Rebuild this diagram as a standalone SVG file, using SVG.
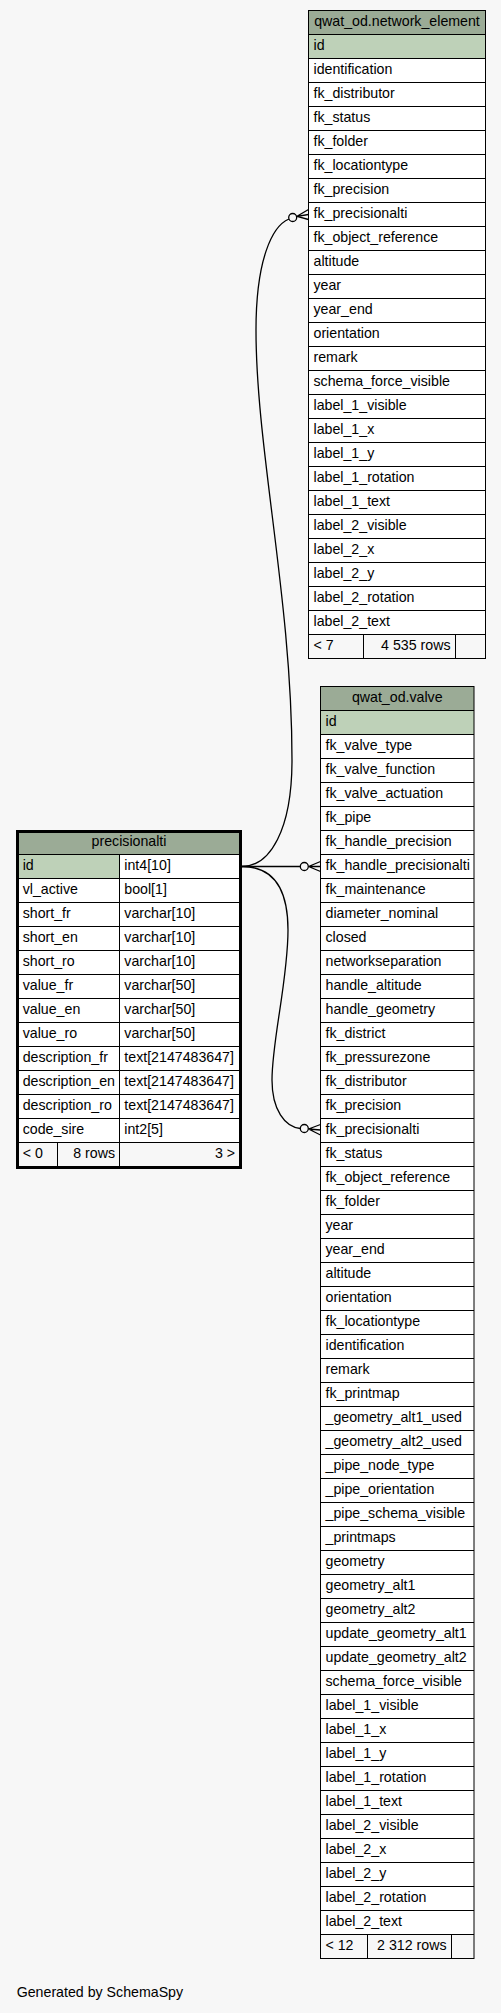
<svg xmlns="http://www.w3.org/2000/svg" width="501" height="2013" viewBox="0 0 501 2013">
<style>
text{font-family:"Liberation Sans",Arial,sans-serif;font-size:14.2px;fill:#000}
.c{text-anchor:middle}
.r{text-anchor:end}
.hd{fill:#9bab96}
.pk{fill:#bed1b8}
.ft{fill:#f7f7f7}
.cell{fill:#fff}
.ln{stroke:#000;stroke-width:1;fill:none}
.ob{fill:none;stroke:#000;stroke-width:1}
.edge{fill:none;stroke:#000;stroke-width:1.3}
.dot{fill:#f7f7f7;stroke:#000;stroke-width:1.3}
</style>
<rect x="0" y="0" width="501" height="2013" fill="#f7f7f7"/>

<g id="connectors">
<path class="edge" d="M242,866.5 C270,866.5 292,830 292,760 C292,600 256,450 256,330 C256,260 272,226 289,219"/>
<circle class="dot" cx="292.7" cy="217.5" r="4"/>
<path class="edge" d="M297,216.3 L308.5,209.5 M297,216.3 L308.5,214.5 M297,216.3 L308.5,219.5"/>
<path class="edge" d="M242,866.5 L300.3,866.5"/>
<circle class="dot" cx="304.3" cy="866.5" r="4"/>
<path class="edge" d="M308.5,866.5 L320.5,861.5 M308.5,866.5 L320.5,866.5 M308.5,866.5 L320.5,871.5"/>
<path class="edge" d="M242,866.5 C270,866.5 288,885 288,930 C288,980 272,1040 272,1080 C272,1110 285,1127 300.3,1128.5"/>
<circle class="dot" cx="304.3" cy="1128.5" r="4"/>
<path class="edge" d="M308.5,1129 L320.5,1124.5 M308.5,1129 L320.5,1130 M308.5,1129 L320.5,1135"/>
</g>

<g id="network_element">
<rect class="cell" x="308.5" y="10.5" width="177" height="648"/>
<rect class="hd" x="308.5" y="10.5" width="177" height="24"/>
<rect class="pk" x="308.5" y="34.5" width="177" height="24"/>
<rect class="ft" x="308.5" y="634.5" width="177" height="24"/>
<path class="ln" d="M308.5,34.5h177M308.5,58.5h177M308.5,82.5h177M308.5,106.5h177M308.5,130.5h177M308.5,154.5h177M308.5,178.5h177M308.5,202.5h177M308.5,226.5h177M308.5,250.5h177M308.5,274.5h177M308.5,298.5h177M308.5,322.5h177M308.5,346.5h177M308.5,370.5h177M308.5,394.5h177M308.5,418.5h177M308.5,442.5h177M308.5,466.5h177M308.5,490.5h177M308.5,514.5h177M308.5,538.5h177M308.5,562.5h177M308.5,586.5h177M308.5,610.5h177M308.5,634.5h177M363.5,634.5v24M455.5,634.5v24"/>
<rect class="ob" x="308.5" y="10.5" width="177" height="648"/>
<text class="c" x="397" y="26">qwat_od.network_element</text>
<text x="313.5" y="50">id</text>
<text x="313.5" y="74">identification</text>
<text x="313.5" y="98">fk_distributor</text>
<text x="313.5" y="122">fk_status</text>
<text x="313.5" y="146">fk_folder</text>
<text x="313.5" y="170">fk_locationtype</text>
<text x="313.5" y="194">fk_precision</text>
<text x="313.5" y="218">fk_precisionalti</text>
<text x="313.5" y="242">fk_object_reference</text>
<text x="313.5" y="266">altitude</text>
<text x="313.5" y="290">year</text>
<text x="313.5" y="314">year_end</text>
<text x="313.5" y="338">orientation</text>
<text x="313.5" y="362">remark</text>
<text x="313.5" y="386">schema_force_visible</text>
<text x="313.5" y="410">label_1_visible</text>
<text x="313.5" y="434">label_1_x</text>
<text x="313.5" y="458">label_1_y</text>
<text x="313.5" y="482">label_1_rotation</text>
<text x="313.5" y="506">label_1_text</text>
<text x="313.5" y="530">label_2_visible</text>
<text x="313.5" y="554">label_2_x</text>
<text x="313.5" y="578">label_2_y</text>
<text x="313.5" y="602">label_2_rotation</text>
<text x="313.5" y="626">label_2_text</text>
<text x="313.5" y="650">&lt; 7</text>
<text class="r" x="450.5" y="650">4 535 rows</text>
</g>

<g id="valve">
<rect class="cell" x="320.5" y="686.5" width="153.5" height="1272"/>
<rect class="hd" x="320.5" y="686.5" width="153.5" height="24"/>
<rect class="pk" x="320.5" y="710.5" width="153.5" height="24"/>
<rect class="ft" x="320.5" y="1934.5" width="153.5" height="24"/>
<path class="ln" d="M320.5,710.5h153.5M320.5,734.5h153.5M320.5,758.5h153.5M320.5,782.5h153.5M320.5,806.5h153.5M320.5,830.5h153.5M320.5,854.5h153.5M320.5,878.5h153.5M320.5,902.5h153.5M320.5,926.5h153.5M320.5,950.5h153.5M320.5,974.5h153.5M320.5,998.5h153.5M320.5,1022.5h153.5M320.5,1046.5h153.5M320.5,1070.5h153.5M320.5,1094.5h153.5M320.5,1118.5h153.5M320.5,1142.5h153.5M320.5,1166.5h153.5M320.5,1190.5h153.5M320.5,1214.5h153.5M320.5,1238.5h153.5M320.5,1262.5h153.5M320.5,1286.5h153.5M320.5,1310.5h153.5M320.5,1334.5h153.5M320.5,1358.5h153.5M320.5,1382.5h153.5M320.5,1406.5h153.5M320.5,1430.5h153.5M320.5,1454.5h153.5M320.5,1478.5h153.5M320.5,1502.5h153.5M320.5,1526.5h153.5M320.5,1550.5h153.5M320.5,1574.5h153.5M320.5,1598.5h153.5M320.5,1622.5h153.5M320.5,1646.5h153.5M320.5,1670.5h153.5M320.5,1694.5h153.5M320.5,1718.5h153.5M320.5,1742.5h153.5M320.5,1766.5h153.5M320.5,1790.5h153.5M320.5,1814.5h153.5M320.5,1838.5h153.5M320.5,1862.5h153.5M320.5,1886.5h153.5M320.5,1910.5h153.5M320.5,1934.5h153.5M367.5,1934.5v24M451.5,1934.5v24"/>
<rect class="ob" x="320.5" y="686.5" width="153.5" height="1272"/>
<text class="c" x="397.25" y="702">qwat_od.valve</text>
<text x="325.5" y="726">id</text>
<text x="325.5" y="750">fk_valve_type</text>
<text x="325.5" y="774">fk_valve_function</text>
<text x="325.5" y="798">fk_valve_actuation</text>
<text x="325.5" y="822">fk_pipe</text>
<text x="325.5" y="846">fk_handle_precision</text>
<text x="325.5" y="870">fk_handle_precisionalti</text>
<text x="325.5" y="894">fk_maintenance</text>
<text x="325.5" y="918">diameter_nominal</text>
<text x="325.5" y="942">closed</text>
<text x="325.5" y="966">networkseparation</text>
<text x="325.5" y="990">handle_altitude</text>
<text x="325.5" y="1014">handle_geometry</text>
<text x="325.5" y="1038">fk_district</text>
<text x="325.5" y="1062">fk_pressurezone</text>
<text x="325.5" y="1086">fk_distributor</text>
<text x="325.5" y="1110">fk_precision</text>
<text x="325.5" y="1134">fk_precisionalti</text>
<text x="325.5" y="1158">fk_status</text>
<text x="325.5" y="1182">fk_object_reference</text>
<text x="325.5" y="1206">fk_folder</text>
<text x="325.5" y="1230">year</text>
<text x="325.5" y="1254">year_end</text>
<text x="325.5" y="1278">altitude</text>
<text x="325.5" y="1302">orientation</text>
<text x="325.5" y="1326">fk_locationtype</text>
<text x="325.5" y="1350">identification</text>
<text x="325.5" y="1374">remark</text>
<text x="325.5" y="1398">fk_printmap</text>
<text x="325.5" y="1422">_geometry_alt1_used</text>
<text x="325.5" y="1446">_geometry_alt2_used</text>
<text x="325.5" y="1470">_pipe_node_type</text>
<text x="325.5" y="1494">_pipe_orientation</text>
<text x="325.5" y="1518">_pipe_schema_visible</text>
<text x="325.5" y="1542">_printmaps</text>
<text x="325.5" y="1566">geometry</text>
<text x="325.5" y="1590">geometry_alt1</text>
<text x="325.5" y="1614">geometry_alt2</text>
<text x="325.5" y="1638">update_geometry_alt1</text>
<text x="325.5" y="1662">update_geometry_alt2</text>
<text x="325.5" y="1686">schema_force_visible</text>
<text x="325.5" y="1710">label_1_visible</text>
<text x="325.5" y="1734">label_1_x</text>
<text x="325.5" y="1758">label_1_y</text>
<text x="325.5" y="1782">label_1_rotation</text>
<text x="325.5" y="1806">label_1_text</text>
<text x="325.5" y="1830">label_2_visible</text>
<text x="325.5" y="1854">label_2_x</text>
<text x="325.5" y="1878">label_2_y</text>
<text x="325.5" y="1902">label_2_rotation</text>
<text x="325.5" y="1926">label_2_text</text>
<text x="325.5" y="1950">&lt; 12</text>
<text class="r" x="446.5" y="1950">2 312 rows</text>
</g>

<g id="precisionalti">
<rect class="cell" x="17.5" y="831.5" width="223" height="336"/>
<rect class="hd" x="17.5" y="831.5" width="223" height="23"/>
<rect class="pk" x="19" y="854.5" width="100.5" height="24"/>
<rect class="ft" x="19" y="1142.5" width="220" height="24"/>
<path class="ln" d="M19,854.5h220M19,878.5h220M19,902.5h220M19,926.5h220M19,950.5h220M19,974.5h220M19,998.5h220M19,1022.5h220M19,1046.5h220M19,1070.5h220M19,1094.5h220M19,1118.5h220M19,1142.5h220M119.5,854.5v312M57.5,1142.5v24"/>
<rect x="17.5" y="831.5" width="223" height="336" fill="none" stroke="#000" stroke-width="3"/>
<text class="c" x="129" y="846">precisionalti</text>
<text x="22.7" y="870">id</text><text x="124.3" y="870">int4[10]</text>
<text x="22.7" y="894">vl_active</text><text x="124.3" y="894">bool[1]</text>
<text x="22.7" y="918">short_fr</text><text x="124.3" y="918">varchar[10]</text>
<text x="22.7" y="942">short_en</text><text x="124.3" y="942">varchar[10]</text>
<text x="22.7" y="966">short_ro</text><text x="124.3" y="966">varchar[10]</text>
<text x="22.7" y="990">value_fr</text><text x="124.3" y="990">varchar[50]</text>
<text x="22.7" y="1014">value_en</text><text x="124.3" y="1014">varchar[50]</text>
<text x="22.7" y="1038">value_ro</text><text x="124.3" y="1038">varchar[50]</text>
<text x="22.7" y="1062">description_fr</text><text x="124.3" y="1062">text[2147483647]</text>
<text x="22.7" y="1086">description_en</text><text x="124.3" y="1086">text[2147483647]</text>
<text x="22.7" y="1110">description_ro</text><text x="124.3" y="1110">text[2147483647]</text>
<text x="22.7" y="1134">code_sire</text><text x="124.3" y="1134">int2[5]</text>
<text x="22.7" y="1158">&lt; 0</text>
<text class="r" x="115" y="1158">8 rows</text>
<text class="r" x="235" y="1158">3 &gt;</text>
</g>

<text x="16.7" y="1997">Generated by SchemaSpy</text>
</svg>
